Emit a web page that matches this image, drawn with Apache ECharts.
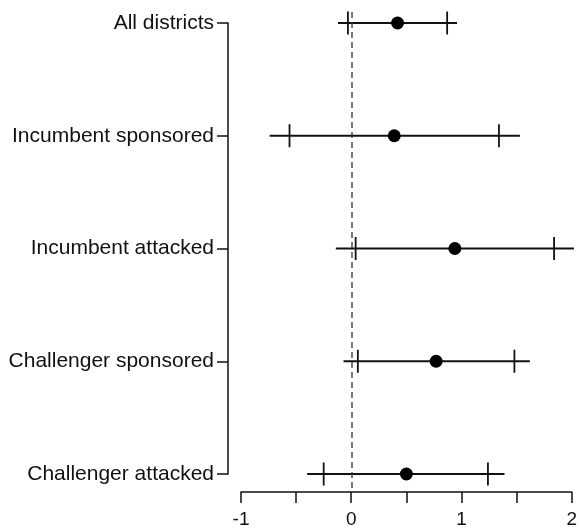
<!DOCTYPE html>
<html>
<head>
<meta charset="utf-8">
<script src="https://cdn.jsdelivr.net/npm/echarts@6/dist/echarts.min.js"></script>
<style>
html,body{margin:0;padding:0;background:#fff;}
#chart{width:580px;height:529px;}
</style>
</head>
<body>
<div id="chart"></div>
<script>
var categories = ['All districts', 'Incumbent sponsored', 'Incumbent attacked', 'Challenger sponsored', 'Challenger attacked'];
var estimates = [0.42, 0.39, 0.94, 0.77, 0.50];
var ci95Low = [-0.12, -0.74, -0.14, -0.07, -0.40];
var ci95High = [0.96, 1.53, 2.02, 1.62, 1.39];
var ci90Low = [-0.03, -0.56, 0.04, 0.06, -0.25];
var ci90High = [0.87, 1.34, 1.84, 1.48, 1.24];
var xTicks = { min: -1, max: 2, interval: 0.5 };
var refLine = [[0, 0], [0, 1]];

var FONT = '"Liberation Sans", Arial, sans-serif';
var INK = '#111';

var barData = categories.map(function (c, i) {
  return [i, estimates[i], ci95Low[i], ci95High[i], ci90Low[i], ci90High[i]];
});
var pointData = categories.map(function (c, i) { return [estimates[i], i]; });

var chart = echarts.init(document.getElementById('chart'), null, { renderer: 'canvas' });
chart.setOption({
  animation: false,
  backgroundColor: '#fff',
  grid: [
    { left: 241, right: 6, top: 23, bottom: 55, containLabel: false },
    { left: 241, right: 6, top: 10, bottom: 41, containLabel: false }
  ],
  xAxis: [
    {
      gridIndex: 0, type: 'value', min: xTicks.min, max: xTicks.max, interval: xTicks.interval,
      position: 'bottom', offset: 18,
      axisLine: { show: true, onZero: false, lineStyle: { color: INK, width: 1.5 } },
      axisTick: { show: true, length: 11, lineStyle: { color: INK, width: 1.5 } },
      splitLine: { show: false },
      axisLabel: {
        margin: 18, color: INK, fontSize: 19, fontFamily: FONT,
        formatter: function (v) { return Number.isInteger(v) ? String(v) : ''; }
      }
    },
    {
      gridIndex: 1, type: 'value', min: xTicks.min, max: xTicks.max, show: false
    }
  ],
  yAxis: [
    {
      gridIndex: 0, type: 'category', data: categories, inverse: true, boundaryGap: false,
      position: 'left', offset: 13,
      axisLine: { show: true, onZero: false, lineStyle: { color: INK, width: 1.5 } },
      axisTick: { show: true, length: 11, alignWithLabel: true, lineStyle: { color: INK, width: 1.5 } },
      splitLine: { show: false },
      axisLabel: { margin: 14, color: INK, fontSize: 21, fontFamily: FONT, interval: 0 }
    },
    {
      gridIndex: 1, type: 'value', min: 0, max: 1, show: false
    }
  ],
  series: [
    {
      type: 'line', xAxisIndex: 1, yAxisIndex: 1, data: refLine,
      symbol: 'none', silent: true,
      lineStyle: { color: '#333', width: 1.3, type: [6, 4] }
    },
    {
      type: 'custom', xAxisIndex: 0, yAxisIndex: 0, data: barData,
      encode: { x: [1, 2, 3, 4, 5], y: 0 },
      clip: false,
      renderItem: function (params, api) {
        var idx = api.value(0);
        var a = api.coord([api.value(2), idx]);
        var b = api.coord([api.value(3), idx]);
        var c = api.coord([api.value(4), idx]);
        var d = api.coord([api.value(5), idx]);
        var h = 11.5;
        var st = { stroke: INK, lineWidth: 1.8, fill: null };
        return {
          type: 'group',
          children: [
            { type: 'line', shape: { x1: a[0], y1: a[1], x2: b[0], y2: b[1] }, style: st },
            { type: 'line', shape: { x1: c[0], y1: c[1] - h, x2: c[0], y2: c[1] + h }, style: st },
            { type: 'line', shape: { x1: d[0], y1: d[1] - h, x2: d[0], y2: d[1] + h }, style: st }
          ]
        };
      }
    },
    {
      type: 'scatter', xAxisIndex: 0, yAxisIndex: 0, data: pointData,
      symbol: 'circle', symbolSize: 13, clip: false,
      itemStyle: { color: '#000', opacity: 1 }
    }
  ]
});
</script>
</body>
</html>
